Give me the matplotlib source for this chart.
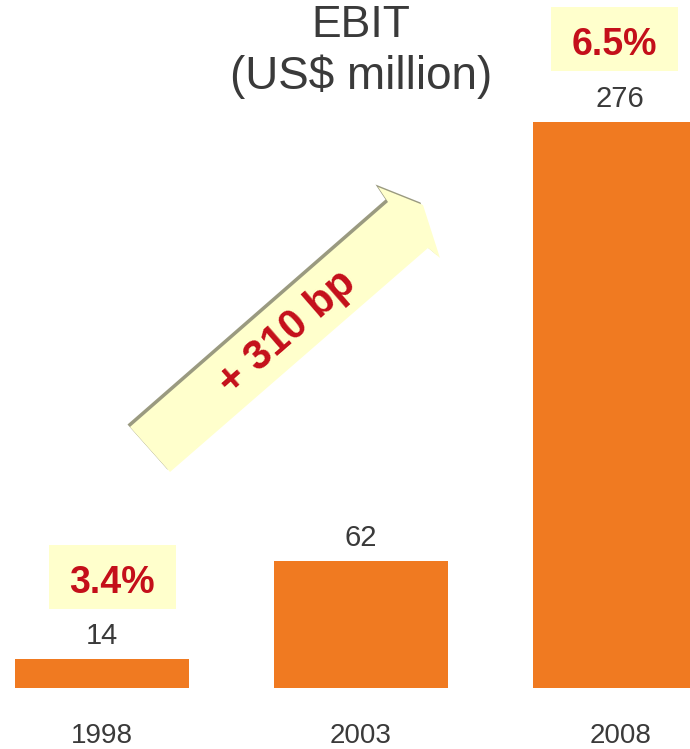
import matplotlib
matplotlib.use("Agg")
import matplotlib.pyplot as plt
from matplotlib.patches import Polygon, Rectangle
import matplotlib.transforms as mtransforms

# EBIT by year, US$ million, and EBIT margin for the end years
years = ["1998", "2003", "2008"]
ebit = [14, 62, 276]
margins = {0: "3.4%", 2: "6.5%"}
margin_shift = {0: 0.04, 2: -0.022}
growth_label = "+ 310 bp"

ORANGE = "#F07A21"
GREY = "#3a3a3a"
RED = "#C40F1A"
PALE = "#FFFFCC"
FONT = ["Liberation Sans", "DejaVu Sans"]

W, H = 690, 749
fig = plt.figure(figsize=(W / 100, H / 100), dpi=100)
ax = fig.add_axes([0, 0, 1, 1])
ax.set_xlim(-0.394, 2.27)
ax.set_ylim(-29.75, 335.5)
ax.axis("off")

x = list(range(len(years)))
ax.bar(x, ebit, width=0.672, color=ORANGE)

for i, v in enumerate(ebit):
    ax.text(i, v + 7.3, str(v), ha="center", va="baseline",
            fontsize=21, color=GREY, family=FONT)
    ax.text(i, -26.6, years[i], ha="center", va="baseline",
            fontsize=20, color=GREY, family=FONT)

# margin call-outs: pale box above the bar label
box_w, box_h = 0.49, 31.2
for i, m in margins.items():
    cx = i + margin_shift[i]
    y0 = ebit[i] + 24.7
    ax.add_patch(Rectangle((cx - box_w / 2, y0), box_w, box_h,
                           fc=PALE, ec="none", zorder=2))
    ax.text(cx, y0 + 7.8, m, ha="center", va="baseline", zorder=3,
            fontsize=27, fontweight="bold", color=RED, family=FONT)

# title
fig.text(361 / W, 1 - 37 / H, "EBIT", ha="center", va="baseline",
         fontsize=32, color=GREY, family=FONT)
fig.text(361 / W, 1 - 89 / H, "(US$ million)", ha="center", va="baseline",
         fontsize=33, color=GREY, family=FONT)

# block arrow between the two margins (pixel coords, y measured from top)
pts = [(130, 427), (388, 202), (378, 187), (423, 205),
       (440, 258), (428, 248), (170, 472)]
pts = [(px / W, 1 - py / H) for px, py in pts]
shadow_tr = fig.transFigure + mtransforms.ScaledTranslation(-2.5 / 100, 2.5 / 100, fig.dpi_scale_trans)
fig.add_artist(Polygon(pts, closed=True, fc="#9a9a80", ec="none", transform=shadow_tr))
fig.add_artist(Polygon(pts, closed=True, fc=PALE, ec="none", transform=fig.transFigure))
fig.text(287 / W, 1 - 333 / H, growth_label, ha="center", va="center",
         rotation=41, rotation_mode="anchor", fontsize=30, fontweight="bold",
         color=RED, family=FONT)

fig.savefig("out.png", dpi=100)
